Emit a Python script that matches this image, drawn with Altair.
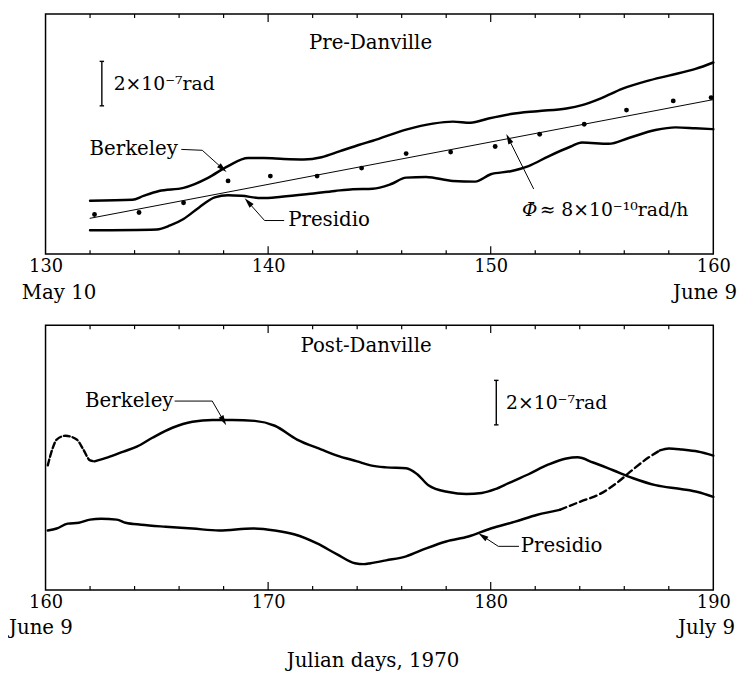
import altair as alt
import pandas as pd

FONT = "DejaVu Serif"
FS = 20      # words
FSN = 18     # numbers on axis

# ---------------- data (Julian day, value in units of 1e-7 rad, arbitrary zero) ----------------
# Pre-Danville
top_berk_day = [132.0, 133.9, 134.4, 135.1, 136.2, 136.7, 137.3, 138.2, 139.1, 139.8, 140.7, 141.6,
                142.4, 143.2, 144.1, 144.7, 146.2, 147.4, 148.3, 149.1, 149.9, 150.9, 152.1, 153.4,
                154.1, 155.0, 155.9, 157.0, 158.0, 159.2, 160.0]
top_berk_val = [2.40, 2.44, 2.62, 2.84, 2.98, 3.15, 3.43, 3.96, 4.32, 4.32, 4.28, 4.26,
                4.36, 4.62, 4.92, 5.10, 5.60, 5.87, 5.96, 5.91, 6.10, 6.30, 6.43, 6.55,
                6.70, 7.03, 7.43, 7.78, 8.03, 8.33, 8.62]
top_pres_day = [132.0, 135.0, 135.6, 136.2, 136.9, 137.6, 138.2, 138.8, 139.7, 140.6, 141.8, 143.0,
                143.8, 144.7, 145.5, 146.2, 147.1, 148.3, 149.3, 150.0, 150.9, 151.7, 152.6, 153.6,
                154.1, 155.3, 156.2, 157.4, 158.3, 159.2, 160.0]
top_pres_val = [1.07, 1.11, 1.29, 1.58, 2.10, 2.55, 2.65, 2.62, 2.52, 2.58, 2.70, 2.84,
                2.92, 2.94, 3.14, 3.44, 3.47, 3.29, 3.26, 3.59, 3.73, 3.96, 4.40, 4.84,
                5.02, 4.96, 5.22, 5.58, 5.70, 5.66, 5.62]
dot_day = [132.2, 134.2, 136.2, 138.2, 140.1, 142.2, 144.2, 146.2, 148.2, 150.2, 152.2, 154.2,
           156.1, 158.2, 159.9]
dot_val = [1.78, 1.87, 2.31, 3.29, 3.51, 3.51, 3.87, 4.52, 4.59, 4.84, 5.39, 5.84,
           6.48, 6.89, 7.04]
trend_day = [132.0, 160.0]
trend_val = [1.61, 6.95]

# Post-Danville
bot_berk_dash_day = [160.1, 160.3, 160.5, 160.9, 161.4, 161.7, 162.0, 162.2]
bot_berk_dash_val = [5.60, 6.31, 6.76, 6.93, 6.76, 6.31, 5.82, 5.78]
bot_berk_day = [162.2, 162.8, 163.5, 164.1, 164.8, 165.7, 166.6, 167.5, 168.4, 169.4, 170.3, 171.3,
                172.4, 173.1, 174.0, 174.6, 175.3, 176.2, 176.7, 177.2, 178.1, 178.9, 179.6, 180.2,
                180.8, 181.7, 182.6, 183.4, 183.9, 184.6, 185.5, 186.4, 187.4, 188.6, 189.3, 190.0]
bot_berk_val = [5.78, 5.96, 6.22, 6.44, 6.84, 7.29, 7.56, 7.64, 7.64, 7.60, 7.38, 6.76,
                6.31, 6.04, 5.78, 5.60, 5.51, 5.47, 5.20, 4.71, 4.40, 4.31, 4.36, 4.53,
                4.80, 5.20, 5.64, 5.91, 5.96, 5.73, 5.38, 5.02, 4.71, 4.53, 4.40, 4.18]
bot_pres_day = [160.1, 160.5, 161.0, 161.5, 162.0, 162.5, 163.2, 163.6, 164.3, 165.4, 166.6, 167.8,
                169.3, 170.3, 171.2, 172.2, 173.1, 173.9, 174.3, 174.6, 175.3, 176.2, 177.1, 178.0,
                179.0, 180.0, 181.1, 182.1, 183.1]
bot_pres_val = [2.67, 2.76, 2.98, 3.02, 3.16, 3.20, 3.16, 3.02, 2.93, 2.84, 2.76, 2.67,
                2.76, 2.67, 2.49, 2.09, 1.60, 1.20, 1.16, 1.20, 1.33, 1.51, 1.87, 2.18,
                2.40, 2.76, 3.07, 3.38, 3.60]
bot_pres_dash_day = [183.1, 184.0, 184.9, 185.7, 186.4, 187.1, 187.6]
bot_pres_dash_val = [3.60, 3.96, 4.31, 4.84, 5.42, 5.96, 6.27]
bot_pres2_day = [187.6, 188.0, 188.6, 189.3, 190.0]
bot_pres2_val = [6.27, 6.36, 6.31, 6.22, 6.04]

# axis ticks / labels
top_major = [130, 140, 150, 160]
bot_major = [160, 170, 180, 190]
top_minor_ticks = [132, 134, 136, 138, 142, 144, 146, 148, 152, 154, 156, 158]
top_major_ticks = [140, 150]
bot_minor_ticks = [162, 164, 166, 168, 172, 174, 176, 178, 182, 184, 186, 188]
bot_major_ticks = [170, 180]

# annotations (arrows: polyline in data units, last point = tip)
top_berk_arrow = ([136.1, 137.04, 137.93], [4.71, 4.67, 3.87])
top_pres_arrow = ([140.72, 139.84, 139.13], [1.51, 1.51, 2.31])
top_phi_arrow = ([151.93, 150.82], [2.93, 5.16])
bot_berk_arrow = ([165.8, 167.49, 167.98], [8.49, 8.49, 7.64])
bot_pres_arrow = ([181.27, 180.34, 179.67], [1.96, 1.96, 2.40])

TOP_W, TOP_H = 676, 243
BOT_W, BOT_H = 676, 268


class Panel:
    def __init__(self, xdom, ydom, labels):
        self.xdom, self.ydom, self.labels = xdom, ydom, labels

    def X(self, field):
        return alt.X(field, type="quantitative",
                     scale=alt.Scale(domain=self.xdom, nice=False, zero=False),
                     axis=alt.Axis(values=self.labels, ticks=False, domain=False, grid=False,
                                   title=None, labelFont=FONT, labelFontSize=FSN,
                                   labelColor="black", labelPadding=4, format="d",
                                   labelFlush=False))

    def Y(self, field):
        return alt.Y(field, type="quantitative",
                     scale=alt.Scale(domain=self.ydom, nice=False, zero=False), axis=None)

    def line(self, days, vals, width=2.5, dash=None, interp="monotone"):
        df = pd.DataFrame({"day": days, "val": vals, "i": range(len(days))})
        kw = dict(color="black", strokeWidth=width, interpolate=interp, strokeCap="round")
        if dash:
            kw["strokeDash"] = dash
        return alt.Chart(df).mark_line(**kw).encode(x=self.X("day"), y=self.Y("val"), order="i:Q")

    def arrow(self, pts, angle):
        days, vals = pts
        df = pd.DataFrame({"day": days, "val": vals, "i": range(len(days))})
        ln = alt.Chart(df).mark_line(color="black", strokeWidth=1).encode(
            x=self.X("day"), y=self.Y("val"), order="i:Q")
        hd = pd.DataFrame({"day": [days[-1]], "val": [vals[-1]], "ang": [angle]})
        head = alt.Chart(hd).mark_point(
            shape="M0,-1L0.45,0.7L-0.45,0.7Z", filled=True, color="black", opacity=1, size=150,
            strokeWidth=0).encode(x=self.X("day"), y=self.Y("val"),
                                  angle=alt.Angle("ang:Q", scale=None))
        return [ln, head]

    def text(self, day, val, text, align="left", fs=FS, style="normal"):
        df = pd.DataFrame({"day": [day], "val": [val], "t": [text]})
        return alt.Chart(df).mark_text(
            font=FONT, fontSize=fs, fontStyle=style, align=align, baseline="middle",
            color="black").encode(x=self.X("day"), y=self.Y("val"), text="t:N")

    def below(self, day, text, align, dx, dy_px):
        df = pd.DataFrame({"day": [day], "t": [text]})
        return alt.Chart(df).mark_text(
            font=FONT, fontSize=FS, align=align, baseline="middle", color="black", dx=dx).encode(
            x=self.X("day"), y=alt.value(dy_px), text="t:N")

    def ticks(self, minor, major, H):
        out = []
        for vals, ln in ((minor, 4), (major, 8)):
            df = pd.DataFrame({"day": vals})
            out.append(alt.Chart(df).mark_rule(color="black", strokeWidth=1.2).encode(
                x=self.X("day"), y=alt.value(H), y2=alt.value(H - ln)))
            out.append(alt.Chart(df).mark_rule(color="black", strokeWidth=1.2).encode(
                x=self.X("day"), y=alt.value(0), y2=alt.value(ln)))
        return out

    def scale_bar(self, x, y0, y1, label_day, label_val):
        df = pd.DataFrame({"day": [x], "v0": [y0], "v1": [y1]})
        bar = alt.Chart(df).mark_rule(color="black", strokeWidth=1.4).encode(
            x=self.X("day"), y=self.Y("v0"), y2="v1:Q")
        caps = pd.DataFrame({"a": [x - 0.1, x - 0.1], "b": [x + 0.1, x + 0.1], "v": [y0, y1]})
        cap = alt.Chart(caps).mark_rule(color="black", strokeWidth=1.4).encode(
            x=self.X("a"), x2="b:Q", y=self.Y("v"))
        txt = self.text(label_day, label_val, "2×10⁻⁷rad", fs=19)
        return [bar, cap, txt]


# ---------------- top panel ----------------
P = Panel([130, 160], [0, 10.8], top_major)
top_layers = P.ticks(top_minor_ticks, top_major_ticks, TOP_H)
top_layers += [
    P.line(top_berk_day, top_berk_val),
    P.line(top_pres_day, top_pres_val),
    P.line(trend_day, trend_val, width=1, interp="linear"),
    alt.Chart(pd.DataFrame({"day": dot_day, "val": dot_val})).mark_circle(
        color="black", size=24, opacity=1).encode(x=P.X("day"), y=P.Y("val")),
]
top_layers += P.arrow(top_berk_arrow, 132)
top_layers += P.arrow(top_pres_arrow, 318)
top_layers += P.arrow(top_phi_arrow, 334)
top_layers += [
    P.text(135.95, 4.71, "Berkeley", align="right"),
    P.text(140.9, 1.51, "Presidio"),
    P.text(151.4, 1.96, "Φ̇", style="italic", fs=19),
    P.text(152.2, 1.96, "≈ 8×10⁻¹⁰rad/h", fs=19),
    P.text(144.6, 9.5, "Pre-Danville", align="center"),
    P.below(130, "May 10", "left", -24, TOP_H + 39),
    P.below(160, "June 9", "right", 24, TOP_H + 39),
]
top_layers += P.scale_bar(132.53, 8.67, 6.67, 133.06, 7.67)
top = alt.layer(*top_layers).properties(width=TOP_W, height=TOP_H)

# ---------------- bottom panel ----------------
Q = Panel([160, 190], [0, 11.9], bot_major)
bot_layers = Q.ticks(bot_minor_ticks, bot_major_ticks, BOT_H)
bot_layers += [
    Q.line(bot_berk_dash_day, bot_berk_dash_val, width=2.4, dash=[6, 3]),
    Q.line(bot_berk_day, bot_berk_val),
    Q.line(bot_pres_day, bot_pres_val),
    Q.line(bot_pres_dash_day, bot_pres_dash_val, width=2.4, dash=[7, 4]),
    Q.line(bot_pres2_day, bot_pres2_val),
]
bot_layers += Q.arrow(bot_berk_arrow, 150)
bot_layers += Q.arrow(bot_pres_arrow, 304)
bot_layers += [
    Q.text(165.75, 8.49, "Berkeley", align="right"),
    Q.text(181.35, 1.96, "Presidio"),
    Q.text(174.4, 10.98, "Post-Danville", align="center"),
    Q.below(160, "June 9", "left", -37, BOT_H + 39),
    Q.below(190, "July 9", "right", 22, BOT_H + 39),
]
bot_layers += Q.scale_bar(180.25, 9.42, 7.42, 180.69, 8.42)
bottom = alt.layer(*bot_layers).properties(width=BOT_W, height=BOT_H)

chart = alt.vconcat(top, bottom, spacing=72, bounds="flush", padding=0).properties(
    title=alt.TitleParams("Julian days, 1970", orient="bottom", anchor="middle", font=FONT,
                          fontSize=20, fontWeight="normal", color="black", offset=12),
).configure_view(stroke="black", strokeWidth=1.5)

chart.save("out.html", embed_options={"renderer": "svg", "actions": False})
